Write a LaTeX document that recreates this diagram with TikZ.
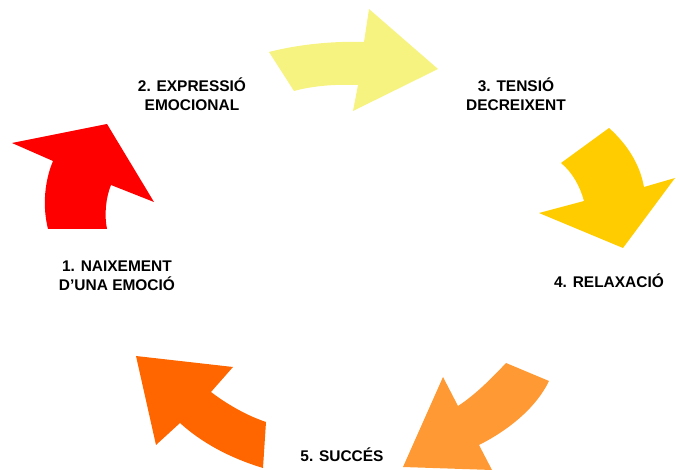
\documentclass[tikz,border=0pt]{standalone}
\usepackage{fontspec}
\setmainfont{Liberation Sans}
\usetikzlibrary{positioning}

\definecolor{stageRed}{RGB}{255,0,0}
\definecolor{stageYellow}{RGB}{247,243,129}
\definecolor{stageGold}{RGB}{255,204,0}
\definecolor{stageLight}{RGB}{255,153,51}
\definecolor{stageDark}{RGB}{255,102,0}

\begin{document}
\begin{tikzpicture}[
    x=0.75pt,
    y=-0.75pt,
    curvedarrow/.style={
        draw=none,
    },
    stage/.style={
        font=\fontsize{11.6}{14.2}\selectfont\bfseries,
        align=center,
        inner sep=0pt,
    }
]
    \useasboundingbox (0,0) rectangle (676,470);

    % Arrows
    \fill[curvedarrow, stageRed] (48,229) .. controls (42,205) and (45,180) .. (53,161)
        -- (12,143) -- (107,124) -- (154,202) -- (111,185)
        .. controls (106,197) and (104,215) .. (107,229) -- cycle;
    \fill[curvedarrow, stageYellow] (269,52) .. controls (300,44) and (335,41) .. (364,42)
        -- (369,9) -- (438,69) -- (353,111) -- (358,85)
        .. controls (335,84) and (312,86) .. (294,91) -- cycle;
    \fill[curvedarrow, stageGold] (609,128) .. controls (628,145) and (640,165) .. (644,187)
        -- (675,178) -- (623,248) -- (539,213) -- (584,201)
        .. controls (580,186) and (572,172) .. (561,163) -- cycle;
    \fill[curvedarrow, stageLight] (506,363) -- (549,381)
        .. controls (535,410) and (505,432) .. (479,445)
        -- (492,470) -- (403,467) -- (443,377) -- (458,406)
        .. controls (475,395) and (492,378) .. (506,363) -- cycle;
    \fill[curvedarrow, stageDark] (136,356) -- (233,367) -- (211,392)
        .. controls (228,405) and (248,416) .. (266,422)
        -- (263,468)
        .. controls (230,458) and (202,443) .. (180,423)
        -- (156,445) -- cycle;

    % Stage labels
    \node[stage] (stage1) at (117,276) {1. NAIXEMENT\\D’UNA EMOCIÓ};
    \node[stage] (stage2) at (192,94) {2. EXPRESSIÓ\\EMOCIONAL};
    \node[stage] (stage3) at (516,94) {3. TENSIÓ\\DECREIXENT};
    \node[stage] (stage4) at (609,281) {4. RELAXACIÓ};
    \node[stage] (stage5) at (342,455) {5. SUCCÉS};

\end{tikzpicture}
\end{document}
